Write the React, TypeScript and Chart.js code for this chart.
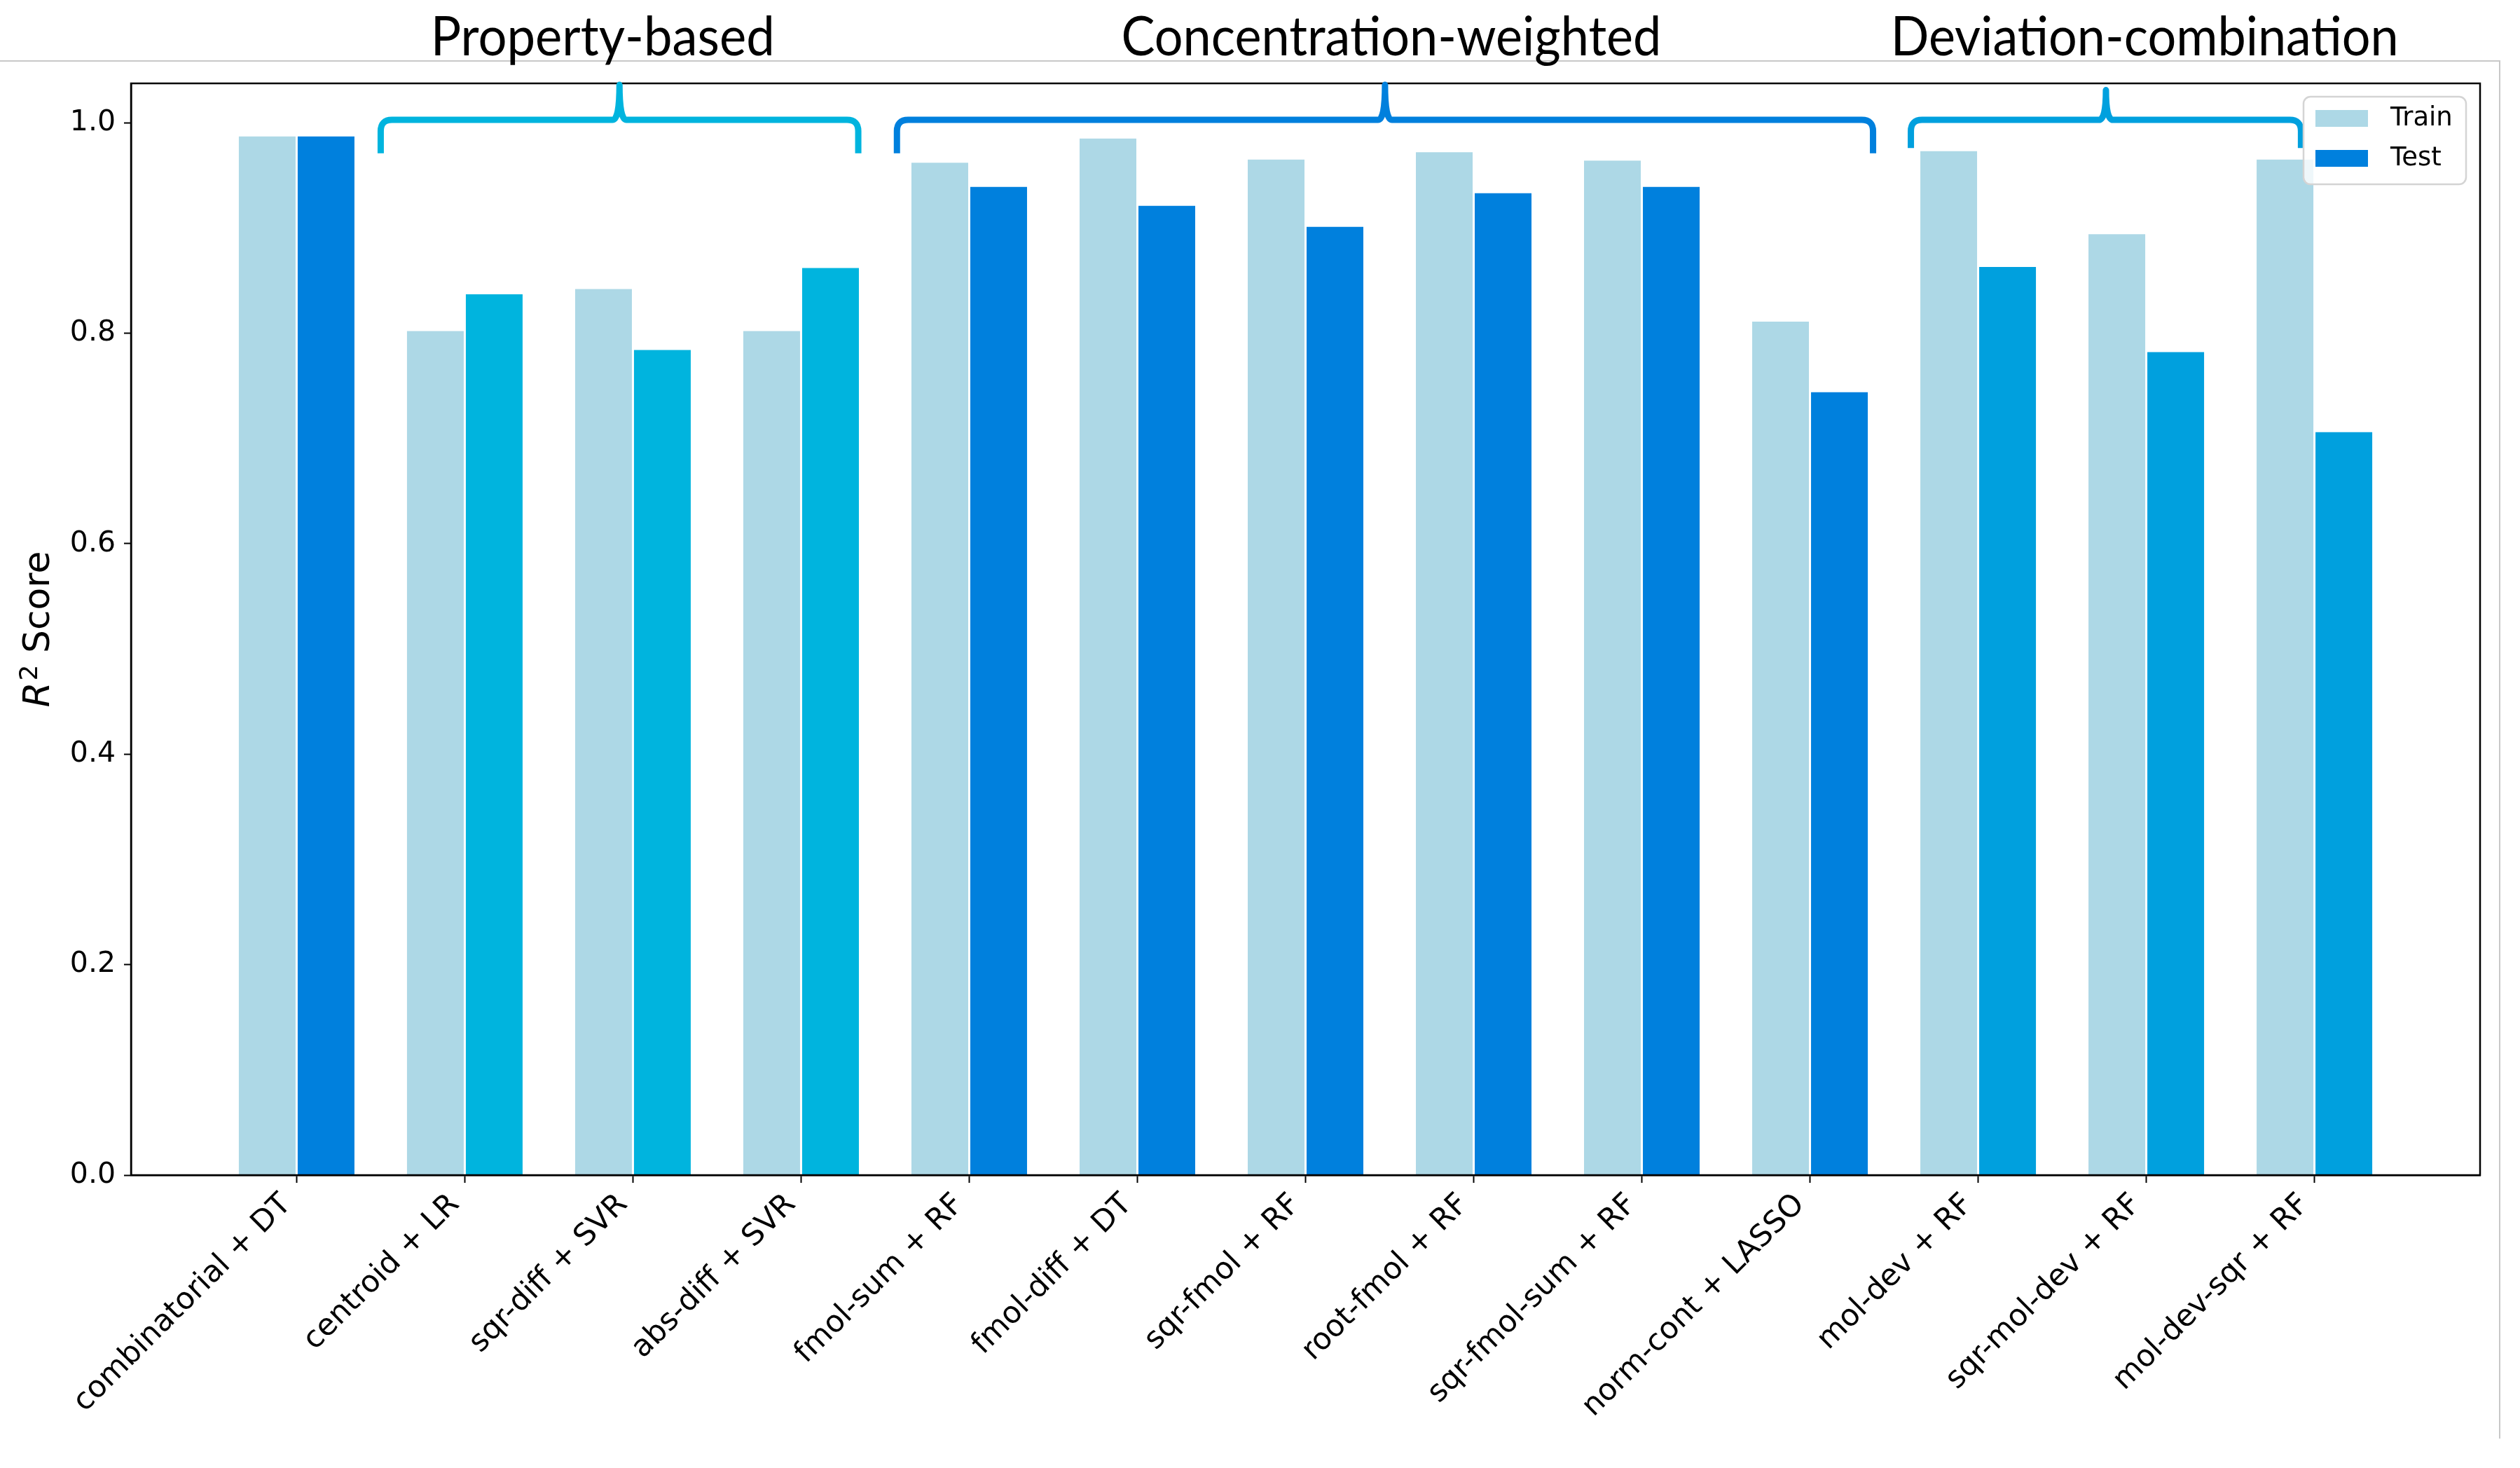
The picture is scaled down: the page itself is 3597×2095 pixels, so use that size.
import React, { useEffect, useRef } from "react";
import { Chart, registerables } from "chart.js";

Chart.register(...registerables);

// ---------------- data ----------------
const categories = [
  "combinatorial + DT",
  "centroid + LR",
  "sqr-diff + SVR",
  "abs-diff + SVR",
  "fmol-sum + RF",
  "fmol-diff + DT",
  "sqr-fmol + RF",
  "root-fmol + RF",
  "sqr-fmol-sum + RF",
  "norm-cont + LASSO",
  "mol-dev + RF",
  "sqr-mol-dev + RF",
  "mol-dev-sqr + RF",
];
const trainScores = [0.988, 0.803, 0.843, 0.803, 0.963, 0.986, 0.966, 0.973, 0.965, 0.812, 0.974, 0.895, 0.966];
const testScores = [0.988, 0.838, 0.785, 0.863, 0.940, 0.922, 0.902, 0.934, 0.940, 0.745, 0.864, 0.783, 0.707];
const seriesNames = ["Train", "Test"];
const groupNames = ["Property-based", "Concentration-weighted", "Deviation-combination"];
const categoryGroup = [-1, 0, 0, 0, 1, 1, 1, 1, 1, 1, 2, 2, 2];
const yTickValues = [0, 0.2, 0.4, 0.6, 0.8, 1.0];
const yAxisTitle = ["R", "2", " Score"];

// ---------------- style / layout ----------------
const W = 3597;
const H = 2095;
const TRAIN_COLOR = "#ADD8E6";
const TEST_COLOR = "#0080DD";
const GROUP_COLORS = ["#00B4DE", "#0080DD", "#00A0DE"];
const BRACE_SPANS = [
  { from: 0.5, to: 3.34, tip: 1.036, end: 0.971 },
  { from: 3.57, to: 9.375, tip: 1.036, end: 0.971 },
  { from: 9.6, to: 11.92, tip: 1.031, end: 0.976 },
];
const BRACE_LEVEL = 1.0027;
const TITLE_X = [1.82, 6.51, 10.99];
const TITLE_WIDTHS = [491, 771, 725];
const DEJAVU = "'DejaVu Sans', sans-serif";
const XLABEL_SIZE = 43;

const overlay = {
  id: "overlay",
  afterDraw(chart: any) {
    const ctx = chart.ctx as CanvasRenderingContext2D;
    const a = chart.chartArea;
    const xs = chart.scales.x;
    const ys = chart.scales.y;
    ctx.save();

    // figure gray border lines
    ctx.strokeStyle = "#c8c8c8";
    ctx.lineWidth = 2;
    ctx.beginPath();
    ctx.moveTo(0, 87);
    ctx.lineTo(3568, 87);
    ctx.lineTo(3568, 2053);
    ctx.stroke();

    // plot frame
    ctx.strokeStyle = "#000";
    ctx.lineWidth = 2.5;
    ctx.strokeRect(a.left, a.top, a.right - a.left, a.bottom - a.top);

    // rotated x tick labels (right edge of rotated box at the tick)
    ctx.fillStyle = "#000";
    ctx.font = `${XLABEL_SIZE}px ${DEJAVU}`;
    ctx.textAlign = "right";
    ctx.textBaseline = "alphabetic";
    const s = XLABEL_SIZE;
    const y0 = a.bottom + 20;
    categories.forEach((lab, i) => {
      const tx = xs.getPixelForValue(i);
      ctx.save();
      ctx.translate(tx - 0.7071 * 0.21 * s, y0 + 0.7071 * 0.76 * s);
      ctx.rotate(-Math.PI / 4);
      ctx.fillText(lab, 0, 0);
      ctx.restore();
    });

    // braces
    BRACE_SPANS.forEach((b, i) => {
      const x0 = xs.getPixelForValue(b.from);
      const x1 = xs.getPixelForValue(b.to);
      const xm = (x0 + x1) / 2;
      const yh = ys.getPixelForValue(BRACE_LEVEL);
      const yt = ys.getPixelForValue(b.tip);
      const ye = ys.getPixelForValue(b.end);
      const r = 16;
      const sp = 10;
      ctx.strokeStyle = GROUP_COLORS[i];
      ctx.lineWidth = 9;
      ctx.lineJoin = "round";
      ctx.beginPath();
      ctx.moveTo(x0, ye);
      ctx.lineTo(x0, yh + r);
      ctx.quadraticCurveTo(x0, yh, x0 + r, yh);
      ctx.lineTo(xm - sp, yh);
      ctx.quadraticCurveTo(xm, yh, xm, yt);
      ctx.quadraticCurveTo(xm, yh, xm + sp, yh);
      ctx.lineTo(x1 - r, yh);
      ctx.quadraticCurveTo(x1, yh, x1, yh + r);
      ctx.lineTo(x1, ye);
      ctx.stroke();
    });

    // group titles
    ctx.fillStyle = "#000";
    ctx.textBaseline = "alphabetic";
    ctx.textAlign = "center";
    groupNames.forEach((name, i) => {
      ctx.font = "78px Lato";
      const m = ctx.measureText(name).width;
      const sx = TITLE_WIDTHS[i] / m;
      const cx = xs.getPixelForValue(TITLE_X[i]);
      ctx.save();
      ctx.translate(cx, 79);
      ctx.scale(sx, 1);
      ctx.fillText(name, 0, 0);
      ctx.restore();
    });

    // y axis title
    ctx.save();
    const cy = (a.top + a.bottom) / 2;
    ctx.translate(70, cy);
    ctx.rotate(-Math.PI / 2);
    ctx.textAlign = "left";
    ctx.textBaseline = "alphabetic";
    const fMain = `52px ${DEJAVU}`;
    const fItal = `oblique 52px ${DEJAVU}`;
    const fSup = `36px ${DEJAVU}`;
    ctx.font = fItal;
    const w0 = ctx.measureText(yAxisTitle[0]).width;
    ctx.font = fSup;
    const w1 = ctx.measureText(yAxisTitle[1]).width;
    ctx.font = fMain;
    const w2 = ctx.measureText(yAxisTitle[2]).width;
    let x = -(w0 + w1 + 2 + w2) / 2;
    ctx.font = fItal;
    ctx.fillText(yAxisTitle[0], x, 0);
    x += w0 + 2;
    ctx.font = fSup;
    ctx.fillText(yAxisTitle[1], x, -17);
    x += w1;
    ctx.font = fMain;
    ctx.fillText(yAxisTitle[2], x, 0);
    ctx.restore();

    // legend
    ctx.fillStyle = "rgba(255,255,255,0.8)";
    ctx.strokeStyle = "#d4d4d4";
    ctx.lineWidth = 2.5;
    ctx.beginPath();
    (ctx as any).roundRect(3288, 138, 232, 125, 10);
    ctx.fill();
    ctx.stroke();
    const legendColors = [TRAIN_COLOR, TEST_COLOR];
    seriesNames.forEach((n, i) => {
      const y = 157 + i * 57;
      ctx.fillStyle = legendColors[i];
      ctx.fillRect(3305, y, 75, 24);
      ctx.fillStyle = "#000";
      ctx.font = `37px ${DEJAVU}`;
      ctx.textAlign = "left";
      ctx.textBaseline = "middle";
      ctx.fillText(n, 3412, y + 12);
    });

    ctx.restore();
  },
};

export default function App() {
  const ref = useRef<HTMLCanvasElement | null>(null);
  useEffect(() => {
    document.body.style.margin = "0";
    const canvas = ref.current!;
    const testColors = categoryGroup.map((g) => (g < 0 ? TEST_COLOR : GROUP_COLORS[g]));
    const chart = new Chart(canvas, {
      type: "bar",
      data: {
        datasets: [
          {
            label: seriesNames[0],
            data: trainScores.map((v, i) => ({ x: i, y: v })),
            backgroundColor: TRAIN_COLOR,
            borderColor: "#ffffff",
            borderWidth: 1.5,
            borderSkipped: "bottom",
          },
          {
            label: seriesNames[1],
            data: testScores.map((v, i) => ({ x: i, y: v })),
            backgroundColor: testColors,
            borderColor: "#ffffff",
            borderWidth: 1.5,
            borderSkipped: "bottom",
          },
        ] as any,
      },
      options: {
        animation: false,
        responsive: false,
        devicePixelRatio: 1,
        layout: { padding: { left: 0, top: 119, right: 57, bottom: 0 } },
        datasets: { bar: { categoryPercentage: 0.7, barPercentage: 1.0 } } as any,
        plugins: { legend: { display: false }, tooltip: { enabled: false } },
        scales: {
          x: {
            type: "linear",
            offset: false,
            min: -0.985,
            max: 12.985,
            afterBuildTicks: (scale: any) => {
              scale.ticks = categories.map((_, i) => ({ value: i }));
            },
            afterFit: (scale: any) => {
              scale.height = H - 1677;
            },
            ticks: {
              display: false,
              autoSkip: false,
            },
            grid: {
              offset: false,
              drawOnChartArea: false,
              drawTicks: true,
              tickLength: 11,
              tickWidth: 2,
              tickColor: "#000",
            },
            border: { display: true, color: "#000", width: 2.5 },
          },
          y: {
            type: "linear",
            min: 0,
            max: 1.0374,
            afterBuildTicks: (scale: any) => {
              scale.ticks = yTickValues.map((v) => ({ value: v }));
            },
            afterFit: (scale: any) => {
              scale.width = 187;
            },
            ticks: {
              padding: 12,
              color: "#000",
              font: { family: DEJAVU, size: 41 },
              callback: (v: any) => Number(v).toFixed(1),
            },
            grid: {
              drawOnChartArea: false,
              drawTicks: true,
              tickLength: 10,
              tickWidth: 2,
              tickColor: "#000",
            },
            border: { display: true, color: "#000", width: 2.5 },
          },
        },
      } as any,
      plugins: [overlay],
    });
    return () => chart.destroy();
  }, []);
  return (
    <div style={{ position: "absolute", left: 0, top: 0, width: W, height: H, background: "#fff" }}>
      <canvas ref={ref} width={W} height={H} style={{ width: W, height: H, display: "block" }} />
    </div>
  );
}
